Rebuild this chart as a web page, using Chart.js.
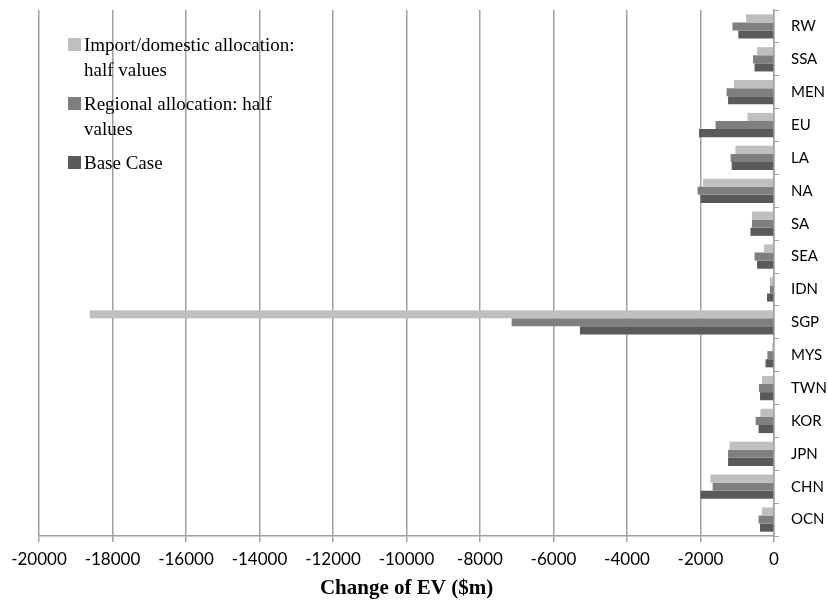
<!DOCTYPE html>
<html>
<head>
<meta charset="utf-8">
<script src="https://cdn.jsdelivr.net/npm/chart.js@4.4.1/dist/chart.umd.min.js"></script>
<style>
    html, body { margin: 0; padding: 0; background: #fff; }
    #wrap { position: relative; width: 828px; height: 601px; }
    #legend {
        position: absolute; left: 68px; top: 32px;
        font-family: 'Liberation Serif', 'Times New Roman', serif;
        font-size: 19px; color: #000; line-height: 25px;
    }
    .item { position: relative; padding-left: 16px; margin-bottom: 9px; }
    .item span.sw { position: absolute; left: 0; top: 6px; width: 13px; height: 13px; }
</style>
</head>
<body>
<div id="wrap">
    <canvas id="chart" width="828" height="601"></canvas>
    <div id="legend"></div>
</div>
<script>
// regiões (de cima para baixo)
const regions = ['RW', 'SSA', 'MEN', 'EU', 'LA', 'NA', 'SA', 'SEA', 'IDN', 'SGP', 'MYS', 'TWN', 'KOR', 'JPN', 'CHN', 'OCN'];

// valores ($m)
const importDomesticHalf = [-760, -460, -1090, -720, -1050, -1930, -600, -270, -110, -18620, -50, -330, -370, -1210, -1730, -330];
const regionalHalf       = [-1130, -570, -1290, -1590, -1180, -2080, -600, -530, -110, -7140, -180, -410, -500, -1250, -1670, -420];
const baseCase           = [-970, -530, -1250, -2040, -1150, -2000, -640, -460, -190, -5280, -230, -380, -420, -1250, -2000, -380];

const seriesNames = ['Import/domestic allocation:\nhalf values', 'Regional allocation: half\nvalues', 'Base Case'];
const seriesColors = ['#bfbfbf', '#7f7f7f', '#5a5a5a'];

const xMin = -20000;
const xMax = 0;
const xStep = 2000;

const datasets = [importDomesticHalf, regionalHalf, baseCase].map((vals, i) => ({
    label: seriesNames[i],
    data: vals,
    backgroundColor: seriesColors[i],
    borderWidth: 0,
    categoryPercentage: 0.74,
    barPercentage: 1.0
}));

// Legenda em HTML (rótulos com quebra de linha)
const legendEl = document.getElementById('legend');
seriesNames.forEach((name, i) => {
    const div = document.createElement('div');
    div.className = 'item';
    const sw = document.createElement('span');
    sw.className = 'sw';
    sw.style.background = seriesColors[i];
    div.appendChild(sw);
    name.split('\n').forEach((line, j) => {
        if (j > 0) div.appendChild(document.createElement('br'));
        div.appendChild(document.createTextNode(line));
    });
    legendEl.appendChild(div);
});

new Chart(document.getElementById('chart'), {
    type: 'bar',
    data: { labels: regions, datasets: datasets },
    options: {
        indexAxis: 'y',
        responsive: false,
        animation: false,
        layout: { padding: { left: 0, right: 0, top: 10, bottom: 0 } },
        plugins: {
            legend: { display: false },
            tooltip: { enabled: false }
        },
        scales: {
            x: {
                min: xMin,
                max: xMax,
                afterFit: (scale) => {
                    scale.height = 65;
                    scale.paddingLeft = 39;
                    scale.paddingRight = 0;
                },
                ticks: {
                    stepSize: xStep,
                    color: '#000',
                    font: { family: "Lato, 'Open Sans', sans-serif", size: 17 },
                    padding: 7,
                    callback: (v) => String(v)
                },
                grid: { color: '#a0a0a0', lineWidth: 1.5, tickLength: 6 },
                border: { color: '#a0a0a0', width: 1.5 },
                title: {
                    display: true,
                    text: 'Change of EV ($m)',
                    color: '#000',
                    font: { family: "'Liberation Serif', 'Times New Roman', serif", size: 21, weight: 'bold' },
                    padding: { top: 2, bottom: 0 }
                }
            },
            y: {
                position: 'right',
                afterFit: (scale) => {
                    scale.width = 54;
                    scale.paddingTop = 0;
                    scale.paddingBottom = 0;
                },
                ticks: {
                    color: '#000',
                    font: { family: "Lato, 'Open Sans', sans-serif", size: 15 },
                    padding: 12
                },
                grid: { drawOnChartArea: false, offset: true, color: '#a0a0a0', tickLength: 5 },
                border: { color: '#a0a0a0', width: 1.5 }
            }
        }
    }
});
</script>
</body>
</html>
